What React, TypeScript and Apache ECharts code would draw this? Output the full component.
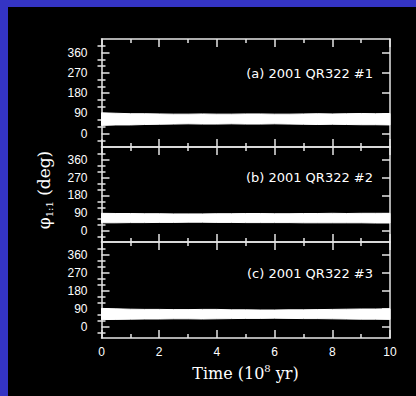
import React, { useEffect, useRef } from "react";
import * as echarts from "echarts";

// ---- data ----
const TIME = [0, 0.5, 1, 1.5, 2, 2.5, 3, 3.5, 4, 4.5, 5, 5.5, 6, 6.5, 7, 7.5, 8, 8.5, 9, 9.5, 10];

const UPPER_A = [92, 90, 88, 88, 87, 86, 86, 87, 86, 86, 87, 87, 86, 86, 87, 88, 87, 88, 89, 88, 89];
const LOWER_A = [36, 38, 38, 40, 41, 42, 43, 42, 42, 43, 42, 42, 43, 42, 41, 40, 41, 40, 39, 39, 38];

const UPPER_B = [90, 89, 89, 88, 88, 87, 87, 87, 88, 88, 89, 89, 88, 88, 89, 89, 90, 89, 90, 90, 90];
const LOWER_B = [42, 42, 43, 43, 44, 44, 45, 45, 44, 44, 43, 43, 43, 43, 42, 42, 42, 42, 42, 41, 41];

const UPPER_C = [93, 91, 89, 88, 88, 87, 87, 88, 88, 86, 86, 85, 85, 86, 86, 87, 88, 89, 90, 90, 91];
const LOWER_C = [37, 38, 39, 40, 40, 41, 41, 40, 41, 42, 43, 43, 44, 43, 42, 42, 41, 40, 39, 39, 38];

const PANEL_LABELS = ["(a) 2001 QR322 #1", "(b) 2001 QR322 #2", "(c) 2001 QR322 #3"];
const Y_TICKS = [0, 90, 180, 270, 360];
const Y_MINOR = [-30, 30, 60, 120, 150, 210, 240, 300, 330, 390];
const X_MIN = 0;
const X_MAX = 10;
const X_STEP = 2;

// ---- layout ----
const PANELS = [
  { top: 39, height: 108, min: -60, max: 420, labelY: 73 },
  { top: 147, height: 95, min: -55, max: 425, labelY: 177 },
  { top: 242, height: 96, min: -55, max: 425, labelY: 273 },
];
const UPPERS = [UPPER_A, UPPER_B, UPPER_C];
const LOWERS = [LOWER_A, LOWER_B, LOWER_C];

const FRAME = "#e6e6e6";
const SANS = "'Liberation Sans', Arial, sans-serif";
const SERIF = "'DejaVu Serif', serif";

export default function App() {
  const ref = useRef<HTMLDivElement>(null);

  useEffect(() => {
    if (!ref.current) return;
    const chart = echarts.init(ref.current, null, { renderer: "svg" });

    const lineStyle = { color: FRAME, width: 1.5 };
    const grids: any[] = [];
    const xAxes: any[] = [];
    const yAxes: any[] = [];
    const series: any[] = [];

    PANELS.forEach((p, i) => {
      grids.push({ left: 101.5, right: 26, top: p.top, height: p.height });
      const xBase = {
        gridIndex: i,
        type: "value",
        min: X_MIN,
        max: X_MAX,
        interval: X_STEP,
        axisLine: { show: true, onZero: false, lineStyle },
        axisTick: { show: true, inside: true, length: 8, lineStyle },
        minorTick: { show: true, splitNumber: 2, length: 4, lineStyle },
        splitLine: { show: false },
        minorSplitLine: { show: false },
      };
      xAxes.push({
        ...xBase,
        position: "bottom",
        axisLabel: {
          show: i === 2,
          color: "#fff",
          fontSize: 12,
          fontFamily: SANS,
          margin: 8,
        },
      });
      xAxes.push({ ...xBase, position: "top", axisLabel: { show: false } });

      const yBase = {
        gridIndex: i,
        type: "value",
        min: p.min,
        max: p.max,
        splitLine: { show: false },
      };
      yAxes.push({
        ...yBase,
        position: "left",
        axisLine: { show: true, onZero: false, lineStyle },
        axisTick: { show: true, inside: true, length: 8, customValues: Y_TICKS, lineStyle },
        axisLabel: {
          show: true,
          customValues: Y_TICKS,
          color: "#fff",
          fontSize: 12,
          fontFamily: SANS,
          margin: 14,
        },
      });
      yAxes.push({
        ...yBase,
        position: "left",
        axisLine: { show: false },
        axisTick: { show: true, inside: true, length: 4, customValues: Y_MINOR, lineStyle },
        axisLabel: { show: false },
      });
      yAxes.push({
        ...yBase,
        position: "right",
        axisLine: { show: true, onZero: false, lineStyle },
        axisTick: { show: true, inside: true, length: 8, customValues: Y_TICKS, lineStyle },
        axisLabel: { show: false },
      });
      yAxes.push({
        ...yBase,
        position: "right",
        axisLine: { show: false },
        axisTick: { show: true, inside: true, length: 4, customValues: Y_MINOR, lineStyle },
        axisLabel: { show: false },
      });

      const lo = LOWERS[i];
      const up = UPPERS[i];
      series.push({
        type: "custom",
        xAxisIndex: 2 * i,
        yAxisIndex: 4 * i,
        silent: true,
        clip: true,
        data: TIME.map((t, k) => [t, lo[k], up[k]]),
        encode: { x: 0, y: [1, 2] },
        renderItem: (params: any, api: any) => {
          if (params.dataIndex !== 0) return null;
          const top = TIME.map((t, k) => api.coord([t, up[k]]));
          const bottom = TIME.map((t, k) => api.coord([t, lo[k]])).reverse();
          return {
            type: "polygon",
            shape: { points: top.concat(bottom) },
            style: { fill: "#fff", stroke: "#fff", lineWidth: 1 },
          };
        },
      });
    });

    const graphic: any[] = [
      {
        type: "rect",
        z: -100,
        silent: true,
        shape: { x: 8, y: 7, width: 408, height: 389 },
        style: { fill: "#000" },
      },
      ...PANELS.map((p, i) => ({
        type: "text",
        x: 373,
        y: p.labelY,
        style: {
          text: PANEL_LABELS[i],
          fill: "#fff",
          font: `13px 'DejaVu Sans', sans-serif`,
          align: "right",
          verticalAlign: "middle",
        },
      })),
      {
        type: "text",
        x: 44,
        y: 190,
        rotation: Math.PI / 2,
        style: {
          text: "{p|φ}{s|1:1}{p| (deg)}",
          align: "center",
          verticalAlign: "middle",
          rich: {
            p: { fill: "#fff", fontSize: 17, fontFamily: SERIF, lineHeight: 20, verticalAlign: "middle" },
            s: { fill: "#fff", fontSize: 10, fontFamily: SERIF, lineHeight: 20, verticalAlign: "bottom" },
          },
        },
      },
      {
        type: "text",
        x: 245.5,
        y: 373,
        style: {
          text: "{p|Time (10}{s|8}{p| yr)}",
          align: "center",
          verticalAlign: "middle",
          rich: {
            p: { fill: "#fff", fontSize: 16, fontFamily: SERIF, lineHeight: 20, verticalAlign: "middle" },
            s: { fill: "#fff", fontSize: 10, fontFamily: SERIF, lineHeight: 20, verticalAlign: "top" },
          },
        },
      },
    ];

    chart.setOption({
      animation: false,
      backgroundColor: "#3434c4",
      grid: grids,
      xAxis: xAxes,
      yAxis: yAxes,
      series,
      graphic,
    });

    return () => chart.dispose();
  }, []);

  return (
    <div style={{ position: "fixed", left: 0, top: 0, width: 416, height: 396 }}>
      <div ref={ref} style={{ width: 416, height: 396 }} />
    </div>
  );
}
